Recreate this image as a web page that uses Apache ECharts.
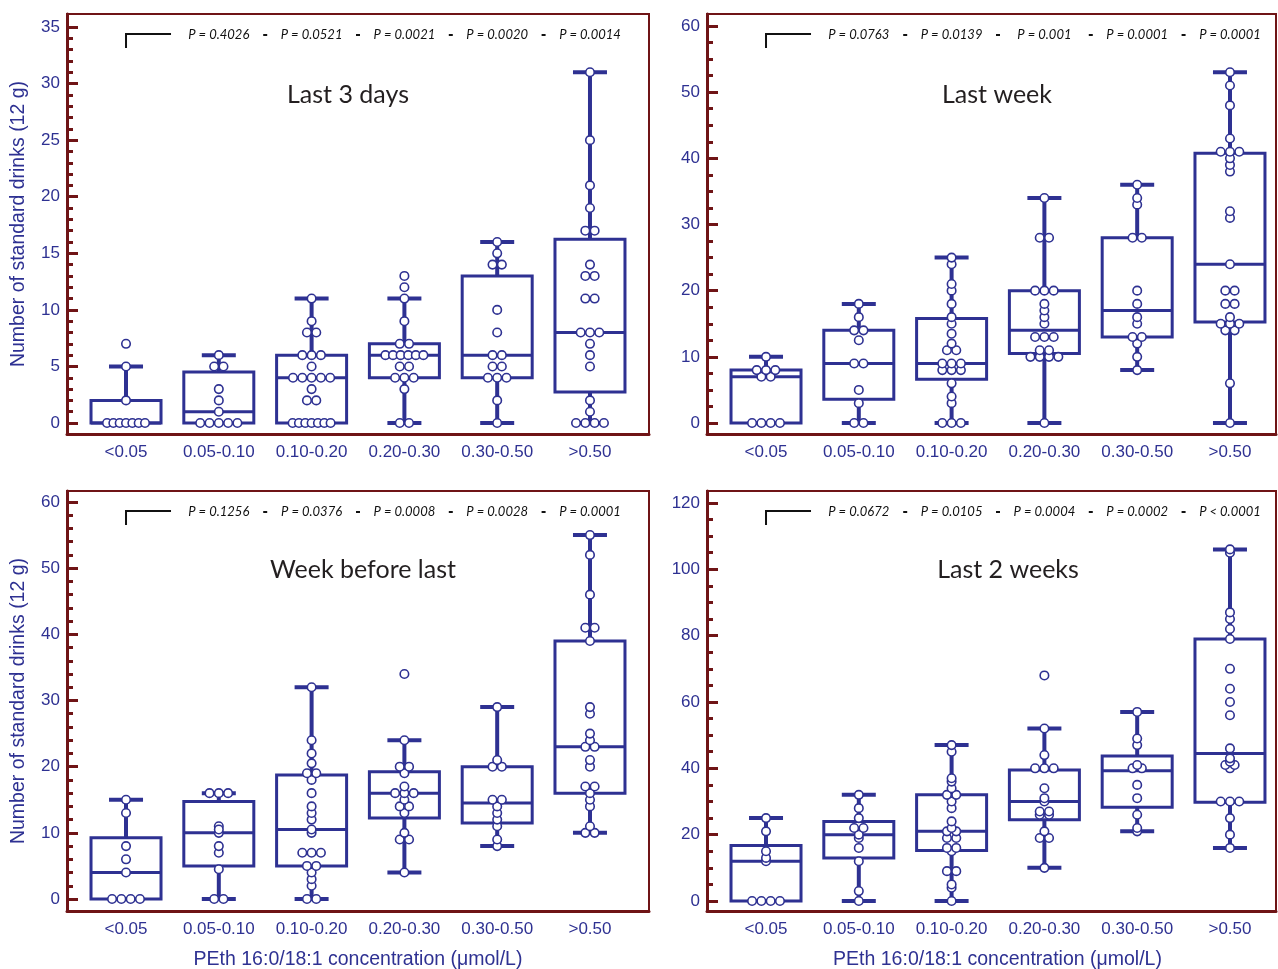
<!DOCTYPE html>
<html lang="en">
<head>
<meta charset="UTF-8">
<title>PEth vs standard drinks</title>
<script src="https://cdn.jsdelivr.net/npm/echarts@6/dist/echarts.min.js"></script>
<style>
    body { margin: 0; padding: 0; background: #fff; }
    #main { width: 1278px; height: 969px; }
</style>
</head>
<body>
<div id="main"></div>
<script>
    var categories = ['<0.05', '0.05-0.10', '0.10-0.20', '0.20-0.30', '0.30-0.50', '>0.50'];
    var panelTitles = ['Last 3 days', 'Last week', 'Week before last', 'Last 2 weeks'];
    var xAxisTitle = 'PEth 16:0/18:1 concentration (\u03bcmol/L)';
    var yAxisTitle = 'Number of standard drinks (12 g)';

    // P values of each group against <0.05
    var pLast3Days = ['P = 0.4026', 'P = 0.0521', 'P = 0.0021', 'P = 0.0020', 'P = 0.0014'];
    var pLastWeek = ['P = 0.0763', 'P = 0.0139', 'P = 0.001', 'P = 0.0001', 'P = 0.0001'];
    var pWeekBefore = ['P = 0.1256', 'P = 0.0376', 'P = 0.0008', 'P = 0.0028', 'P = 0.0001'];
    var pLast2Weeks = ['P = 0.0672', 'P = 0.0105', 'P = 0.0004', 'P = 0.0002', 'P < 0.0001'];

    // y tick labels and minor tick step
    var ticksLast3Days = [0, 5, 10, 15, 20, 25, 30, 35];
    var ticksLastWeek = [0, 10, 20, 30, 40, 50, 60];
    var ticksWeekBefore = [0, 10, 20, 30, 40, 50, 60];
    var ticksLast2Weeks = [0, 20, 40, 60, 80, 100, 120];
    var minorSteps = [1, 2.5, 2, 5];

    // box: [low whisker, Q1, median, Q3, high whisker]
    var boxLast3Days = [[0, 0, 0, 2, 5], [0, 0, 1, 4.5, 6], [0, 0, 4, 6, 11], [0, 4, 6, 7, 11], [0, 4, 6, 13, 16], [0, 2.75, 8, 16.25, 31]];
    var boxLastWeek = [[0, 0, 7, 8, 10], [0, 3.6, 9, 14, 18], [0, 6.6, 9, 15.8, 25], [0, 10.5, 14, 20, 34], [8, 13, 17, 28, 36], [0, 15.25, 24, 40.75, 53]];
    var boxWeekBefore = [[0, 0, 4, 9.25, 15], [0, 5, 10, 14.75, 16], [0, 5, 10.5, 18.75, 32], [4, 12.25, 16, 19.25, 24], [8, 11.5, 14.5, 20, 29], [10, 16, 23, 39, 55]];
    var boxLast2Weeks = [[0, 0, 12, 16.75, 25], [0, 13, 20, 24, 32], [0, 15.25, 21, 32, 47], [10, 24.5, 30, 39.5, 52], [21, 28.25, 39.25, 43.75, 57], [16, 29.75, 44.5, 79, 106]];

    // individual subjects per group
    var dotsLast3Days = [
        [0, 0, 0, 0, 0, 0, 0, 2, 5, 7],
        [0, 0, 0, 0, 0, 1, 2, 3, 5, 5, 6],
        [0, 0, 0, 0, 0, 0, 0, 2, 2, 3, 4, 4, 4, 4, 4, 5, 6, 6, 6, 8, 8, 9, 11],
        [0, 0, 3, 4, 4, 4, 5, 5, 6, 6, 6, 6, 6, 6, 7, 7, 9, 11, 12, 13],
        [0, 2, 4, 4, 4, 5, 5, 6, 6, 8, 10, 14, 14, 15, 16],
        [0, 0, 0, 0, 1, 2, 5, 6, 7, 8, 8, 8, 11, 11, 13, 13, 14, 17, 17, 19, 21, 25, 31]
    ];
    var dotsLastWeek = [
        [0, 0, 0, 0, 7, 7, 8, 8, 8, 10],
        [0, 0, 3, 5, 9, 9, 12.5, 14, 14, 16, 18],
        [0, 0, 0, 3, 4, 6, 8, 8, 8, 9, 9, 9, 11, 11, 12, 13.5, 15, 16, 18, 20, 21, 24, 25],
        [0, 10, 10, 10, 10, 11, 11, 13, 13, 13, 15, 16, 17, 18, 20, 20, 20, 28, 28, 34],
        [8, 10, 12, 13, 13, 15, 16, 18, 20, 28, 28, 33, 34, 36],
        [0, 6, 14, 14, 15, 15, 15, 16, 18, 18, 20, 20, 24, 31, 32, 38, 39, 40, 41, 41, 41, 43, 48, 51, 53]
    ];
    var dotsWeekBefore = [
        [0, 0, 0, 0, 4, 6, 8, 13, 15],
        [0, 0, 4.5, 7, 8, 10, 10.5, 11, 16, 16, 16],
        [0, 0, 2, 3, 4, 5, 5, 7, 7, 7, 10, 10.5, 12, 13, 14, 16, 18, 19, 19, 20.5, 22, 24, 32],
        [4, 9, 9, 10, 13, 14, 14, 15, 16, 16, 16, 17, 19, 20, 20, 24, 34],
        [8, 9, 11, 12, 13, 14, 15, 15, 20, 20, 21, 29],
        [10, 10, 11, 14, 15, 16, 17, 17, 20, 21, 23, 23, 24, 25, 28, 29, 39, 41, 41, 46, 52, 55]
    ];
    var dotsLast2Weeks = [
        [0, 0, 0, 0, 12, 13, 15, 21, 25],
        [0, 3, 12, 16, 19, 20, 22, 22, 25, 28, 32],
        [0, 4, 5, 9, 9, 15, 16, 16, 19, 19, 21, 21, 22, 24, 28, 30, 32, 32, 34, 36, 37, 45, 47],
        [10, 19, 19, 21, 26, 26, 27, 27, 30, 31, 34, 40, 40, 40, 44, 52, 68],
        [21, 22, 26, 31, 35, 40, 40, 41, 47, 49, 57],
        [16, 20, 25, 30, 30, 30, 40, 41, 41, 42, 43, 46, 56, 60, 64, 70, 79, 82, 85, 87, 105, 106]
    ];

    var BLUE = '#2e3192';
    var FRAME = '#6f1416';
    var TEXT = '#2e3192';

    var panels = [
        {p: pLast3Days, ticks: ticksLast3Days, box: boxLast3Days, dots: dotsLast3Days,
            grid: {left: 67, top: 14, width: 582, height: 420}, y: [-0.97, 36.15], x: [-0.636, 5.636], title: [348, 95]},
        {p: pLastWeek, ticks: ticksLastWeek, box: boxLastWeek, dots: dotsLastWeek,
            grid: {left: 707, top: 14, width: 569, height: 420}, y: [-1.66, 61.81], x: [-0.636, 5.496], title: [997, 95]},
        {p: pWeekBefore, ticks: ticksWeekBefore, box: boxWeekBefore, dots: dotsWeekBefore,
            grid: {left: 67, top: 491, width: 582, height: 420}, y: [-1.81, 61.66], x: [-0.636, 5.636], title: [363, 570]},
        {p: pLast2Weeks, ticks: ticksLast2Weeks, box: boxLast2Weeks, dots: dotsLast2Weeks,
            grid: {left: 707, top: 491, width: 569, height: 420}, y: [-3.01, 123.6], x: [-0.636, 5.496], title: [1008, 570]}
    ];

    // spread equal values side by side
    function swarm(values, cat, unitPx) {
        var groups = {};
        values.forEach(function (v) { groups[v] = (groups[v] || 0) + 1; });
        var out = [];
        Object.keys(groups).forEach(function (k) {
            var n = groups[k];
            var step = n > 1 ? Math.min(9.3, 38 / (n - 1)) : 0;
            for (var j = 0; j < n; j++) {
                out.push([cat + (j - (n - 1) / 2) * step / unitPx, +k]);
            }
        });
        return out;
    }

    function renderBox(params, api) {
        var i = api.value(0);
        var lo = api.coord([i, api.value(1)]);
        var q1 = api.coord([i, api.value(2)]);
        var med = api.coord([i, api.value(3)]);
        var q3 = api.coord([i, api.value(4)]);
        var hi = api.coord([i, api.value(5)]);
        var cx = lo[0], hw = 35, cw = 17;
        var thick = {stroke: BLUE, lineWidth: 4};
        var thin = {stroke: BLUE, lineWidth: 3, fill: 'none'};
        var kids = [
            {type: 'rect', shape: {x: cx - hw, y: q3[1], width: hw * 2, height: q1[1] - q3[1]}, style: thin},
            {type: 'line', shape: {x1: cx - hw, y1: med[1], x2: cx + hw, y2: med[1]}, style: thin}
        ];
        if (q3[1] - hi[1] > 0.5) {
            kids.push({type: 'line', shape: {x1: cx, y1: q3[1], x2: cx, y2: hi[1]}, style: thick});
            kids.push({type: 'line', shape: {x1: cx - cw, y1: hi[1], x2: cx + cw, y2: hi[1]}, style: thick});
        }
        if (lo[1] - q1[1] > 0.5) {
            kids.push({type: 'line', shape: {x1: cx, y1: q1[1], x2: cx, y2: lo[1]}, style: thick});
            kids.push({type: 'line', shape: {x1: cx - cw, y1: lo[1], x2: cx + cw, y2: lo[1]}, style: thick});
        }
        return {type: 'group', children: kids};
    }

    var chart = echarts.init(document.getElementById('main'));

    var grid = [], xAxis = [], yAxis = [], series = [], graphic = [];
    panels.forEach(function (pn, k) {
        grid.push({left: pn.grid.left, top: pn.grid.top, width: pn.grid.width, height: pn.grid.height,
            outerBoundsMode: 'none',
            show: true, borderColor: FRAME, borderWidth: 2, backgroundColor: 'transparent'});
        xAxis.push({
            type: 'value', gridIndex: k, min: pn.x[0], max: pn.x[1],
            axisLine: {onZero: false, lineStyle: {color: FRAME, width: 3}},
            axisTick: {show: false},
            splitLine: {show: false},
            axisLabel: {customValues: [0, 1, 2, 3, 4, 5], margin: 10, fontSize: 17, color: TEXT,
                fontFamily: 'Liberation Sans', formatter: function (v) { return categories[Math.round(v)]; }},
            name: k >= 2 ? xAxisTitle : '', nameLocation: 'middle', nameGap: 39,
            nameTextStyle: {fontSize: 19.5, color: TEXT, fontFamily: 'Liberation Sans',
                padding: k === 3 ? [0, 0, 0, 12] : 0}
        });
    });
    panels.forEach(function (pn, k) {
        yAxis.push({
            type: 'value', gridIndex: k, min: pn.y[0], max: pn.y[1], position: 'left',
            axisLine: {onZero: false, lineStyle: {color: FRAME, width: 3}},
            axisTick: {customValues: pn.ticks, inside: true, length: 11, lineStyle: {color: FRAME, width: 3}},
            splitLine: {show: false},
            axisLabel: {customValues: pn.ticks, margin: 7, fontSize: 17, color: TEXT, fontFamily: 'Liberation Sans'},
            name: (k % 2 === 0) ? yAxisTitle : '', nameLocation: 'middle', nameGap: 38, nameRotate: 90,
            nameTextStyle: {fontSize: 19.5, color: TEXT, fontFamily: 'Liberation Sans'}
        });
    });
    panels.forEach(function (pn, k) {
        var minor = [];
        var top = pn.ticks[pn.ticks.length - 1];
        for (var v = 0; v <= top + 1e-9; v += minorSteps[k]) {
            if (pn.ticks.indexOf(v) < 0) minor.push(v);
        }
        yAxis.push({
            type: 'value', gridIndex: k, min: pn.y[0], max: pn.y[1], position: 'left',
            axisLine: {show: false, onZero: false},
            axisTick: {customValues: minor, inside: true, length: 6, lineStyle: {color: FRAME, width: 3}},
            axisLabel: {show: false},
            splitLine: {show: false}
        });
    });

    panels.forEach(function (pn, k) {
        var unitPx = pn.grid.width / (pn.x[1] - pn.x[0]);
        var boxData = pn.box.map(function (b, i) { return [i].concat(b); });
        var pts = [];
        pn.dots.forEach(function (vals, i) { pts = pts.concat(swarm(vals, i, unitPx)); });
        series.push({
            type: 'custom', xAxisIndex: k, yAxisIndex: k, z: 2, silent: true,
            renderItem: renderBox, data: boxData,
            encode: {x: 0, y: [1, 2, 3, 4, 5]}
        });
        series.push({
            type: 'scatter', xAxisIndex: k, yAxisIndex: k, z: 3, silent: true,
            symbol: 'circle', symbolSize: 8.5,
            itemStyle: {color: '#fff', borderColor: BLUE, borderWidth: 1.6, opacity: 1},
            data: pts
        });
        graphic.push({type: 'text', x: pn.title[0], y: pn.title[1],
            style: {text: panelTitles[k], font: '25px Lato', fill: '#231f20', align: 'center', verticalAlign: 'middle'}});
    });

    chart.setOption({animation: false, grid: grid, xAxis: xAxis, yAxis: yAxis, series: series});

    // p values, separators and reference bracket
    panels.forEach(function (pn, k) {
        var gy = pn.grid.top;
        var x0 = chart.convertToPixel({xAxisIndex: k, yAxisIndex: k}, [0, 0])[0];
        graphic.push({type: 'polyline', shape: {points: [[x0, gy + 34], [x0, gy + 20], [x0 + 45, gy + 20]]},
            style: {stroke: '#111', lineWidth: 2, fill: 'none'}});
        pn.p.forEach(function (txt, j) {
            var px = chart.convertToPixel({xAxisIndex: k, yAxisIndex: k}, [j + 1, 0])[0];
            graphic.push({type: 'text', x: px, y: gy + 21,
                style: {text: txt, font: 'italic 13px Lato', fill: '#111', align: 'center', verticalAlign: 'middle'}});
            if (j > 0) {
                var mx = chart.convertToPixel({xAxisIndex: k, yAxisIndex: k}, [j + 0.5, 0])[0];
                graphic.push({type: 'rect', shape: {x: mx - 2, y: gy + 20, width: 4, height: 2}, style: {fill: '#111'}});
            }
        });
    });
    chart.setOption({graphic: graphic});
</script>
</body>
</html>
